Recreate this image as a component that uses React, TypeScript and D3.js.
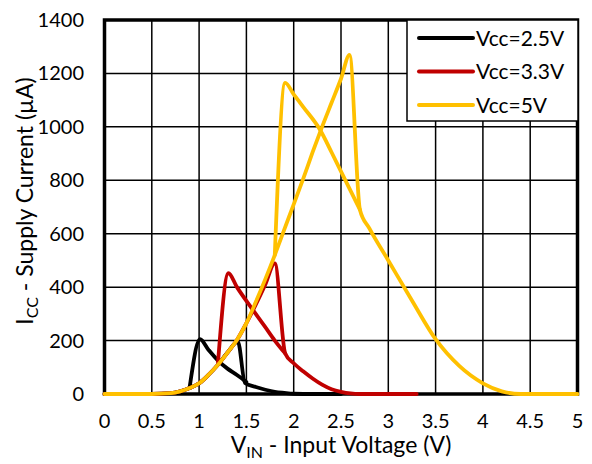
import React from "react";
import * as d3 from "d3";

// Supply current vs input voltage, three supply voltages (hysteresis loops)

const xTicks = [0, 0.5, 1, 1.5, 2, 2.5, 3, 3.5, 4, 4.5, 5];
const yTicks = [0, 200, 400, 600, 800, 1000, 1200, 1400];

const seriesNames = ["Vcc=2.5V", "Vcc=3.3V", "Vcc=5V"];
const seriesColors = ["#000000", "#C00000", "#FFC000"];

// rising sweep [V, µA]
const vcc25Up: [number, number][] = [
  [0, 0], [0.5, 0], [0.7, 3], [0.8, 10], [0.9, 22], [1.0, 40], [1.1, 72], [1.2, 110],
  [1.3, 155], [1.41, 196], [1.485, 41], [1.6, 26], [1.7, 16], [1.8, 8], [1.9, 4],
  [2.0, 1], [2.2, 0], [2.5, 0],
];
// falling sweep, loop part only
const vcc25Down: [number, number][] = [
  [0.9, 25], [1.01, 205], [1.1, 165], [1.2, 125], [1.3, 95], [1.4, 71], [1.5, 45],
];

const vcc33Up: [number, number][] = [
  [0, 0], [0.5, 0], [0.7, 3], [0.8, 10], [0.9, 22], [1.0, 40], [1.1, 72], [1.2, 110],
  [1.3, 155], [1.4, 202], [1.5, 265], [1.6, 335], [1.7, 410], [1.8, 489], [1.91, 152],
  [2.0, 115], [2.1, 85], [2.2, 58], [2.3, 35], [2.4, 18], [2.5, 8], [2.6, 2], [2.7, 0],
  [3.3, 0],
];
const vcc33Down: [number, number][] = [
  [1.2, 118], [1.31, 452], [1.4, 400], [1.57, 314], [1.7, 250], [1.8, 200], [1.91, 152],
];

const vcc5Up: [number, number][] = [
  [0, 0], [0.5, 0], [0.7, 3], [0.8, 10], [0.9, 22], [1.0, 40], [1.1, 72], [1.2, 110],
  [1.3, 155], [1.4, 202], [1.5, 265], [1.6, 345], [1.7, 430], [1.8, 520], [1.9, 615],
  [2.0, 710], [2.1, 805], [2.2, 905], [2.3, 1000], [2.4, 1090], [2.5, 1180], [2.59, 1269],
  [2.7, 690], [2.8, 620], [3.0, 500], [3.25, 350], [3.5, 205], [3.75, 105], [4.0, 40],
  [4.2, 10], [4.4, 0], [5.0, 0],
];
const vcc5Down: [number, number][] = [
  [1.8, 520], [1.91, 1165], [2.0, 1122], [2.1, 1075], [2.28, 988], [2.4, 905],
  [2.51, 826], [2.7, 690],
];

const seriesUp = [vcc25Up, vcc33Up, vcc5Up];
const seriesDown = [vcc25Down, vcc33Down, vcc5Down];

export default function App() {
  const left = 104.5, right = 577.5, top = 20, bottom = 394;

  const x = d3.scaleLinear().domain([0, 5]).range([left, right]);
  const y = d3.scaleLinear().domain([0, 1400]).range([bottom, top]);

  const line = d3.line<[number, number]>()
    .x(d => x(d[0]))
    .y(d => y(d[1]))
    .curve(d3.curveMonotoneX);

  const font = "Lato, 'Open Sans', sans-serif";

  return (
    <svg width={592} height={464}
      style={{ position: "absolute", left: 0, top: 0, background: "#fff" }}
      fontFamily={font}>
      {/* grid */}
      {xTicks.map(t => (
        <line key={"gx" + t} x1={x(t)} x2={x(t)} y1={top} y2={bottom}
          stroke="#000" strokeWidth={1.5} />
      ))}
      {yTicks.map(t => (
        <line key={"gy" + t} x1={left} x2={right} y1={y(t)} y2={y(t)}
          stroke="#000" strokeWidth={1.5} />
      ))}
      {/* frame */}
      <rect x={left} y={top} width={right - left} height={bottom - top}
        fill="none" stroke="#000" strokeWidth={3.5} />

      {/* tick labels */}
      {xTicks.map(t => (
        <text key={"tx" + t} x={x(t)} y={428} fontSize={20} textAnchor="middle" fill="#000">
          {String(t)}
        </text>
      ))}
      {yTicks.map(t => (
        <text key={"ty" + t} x={84} y={y(t) + 7} fontSize={20} textAnchor="end" fill="#000">
          {String(t)}
        </text>
      ))}

      {/* series */}
      {seriesUp.map((s, i) => (
        <g key={"s" + i}>
          <path d={line(s) ?? ""} fill="none" stroke={seriesColors[i]} strokeWidth={3.8}
            strokeLinejoin="round" strokeLinecap="round" />
          <path d={line(seriesDown[i]) ?? ""} fill="none" stroke={seriesColors[i]} strokeWidth={3.8}
            strokeLinejoin="round" strokeLinecap="round" />
        </g>
      ))}

      {/* axis titles */}
      <text x={(left + right) / 2} y={453} fontSize={23} textAnchor="middle" fill="#000">
        V<tspan fontSize={16} dy={5}>IN</tspan><tspan dy={-5}> - Input Voltage (V)</tspan>
      </text>
      <text transform={`translate(33, 201) rotate(-90)`} fontSize={23} textAnchor="middle" fill="#000">
        I<tspan fontSize={16} dy={5}>CC</tspan><tspan dy={-5}> - Supply Current (µA)</tspan>
      </text>

      {/* legend */}
      <rect x={407} y={20} width={171} height={101} fill="#fff" stroke="#000" strokeWidth={1.5} />
      {seriesNames.map((n, i) => (
        <g key={"lg" + i}>
          <line x1={419} x2={473} y1={38 + i * 33.5} y2={38 + i * 33.5}
            stroke={seriesColors[i]} strokeWidth={4} strokeLinecap="round" />
          <text x={476} y={45.5 + i * 33.5} fontSize={21} fill="#000">{n}</text>
        </g>
      ))}
    </svg>
  );
}
